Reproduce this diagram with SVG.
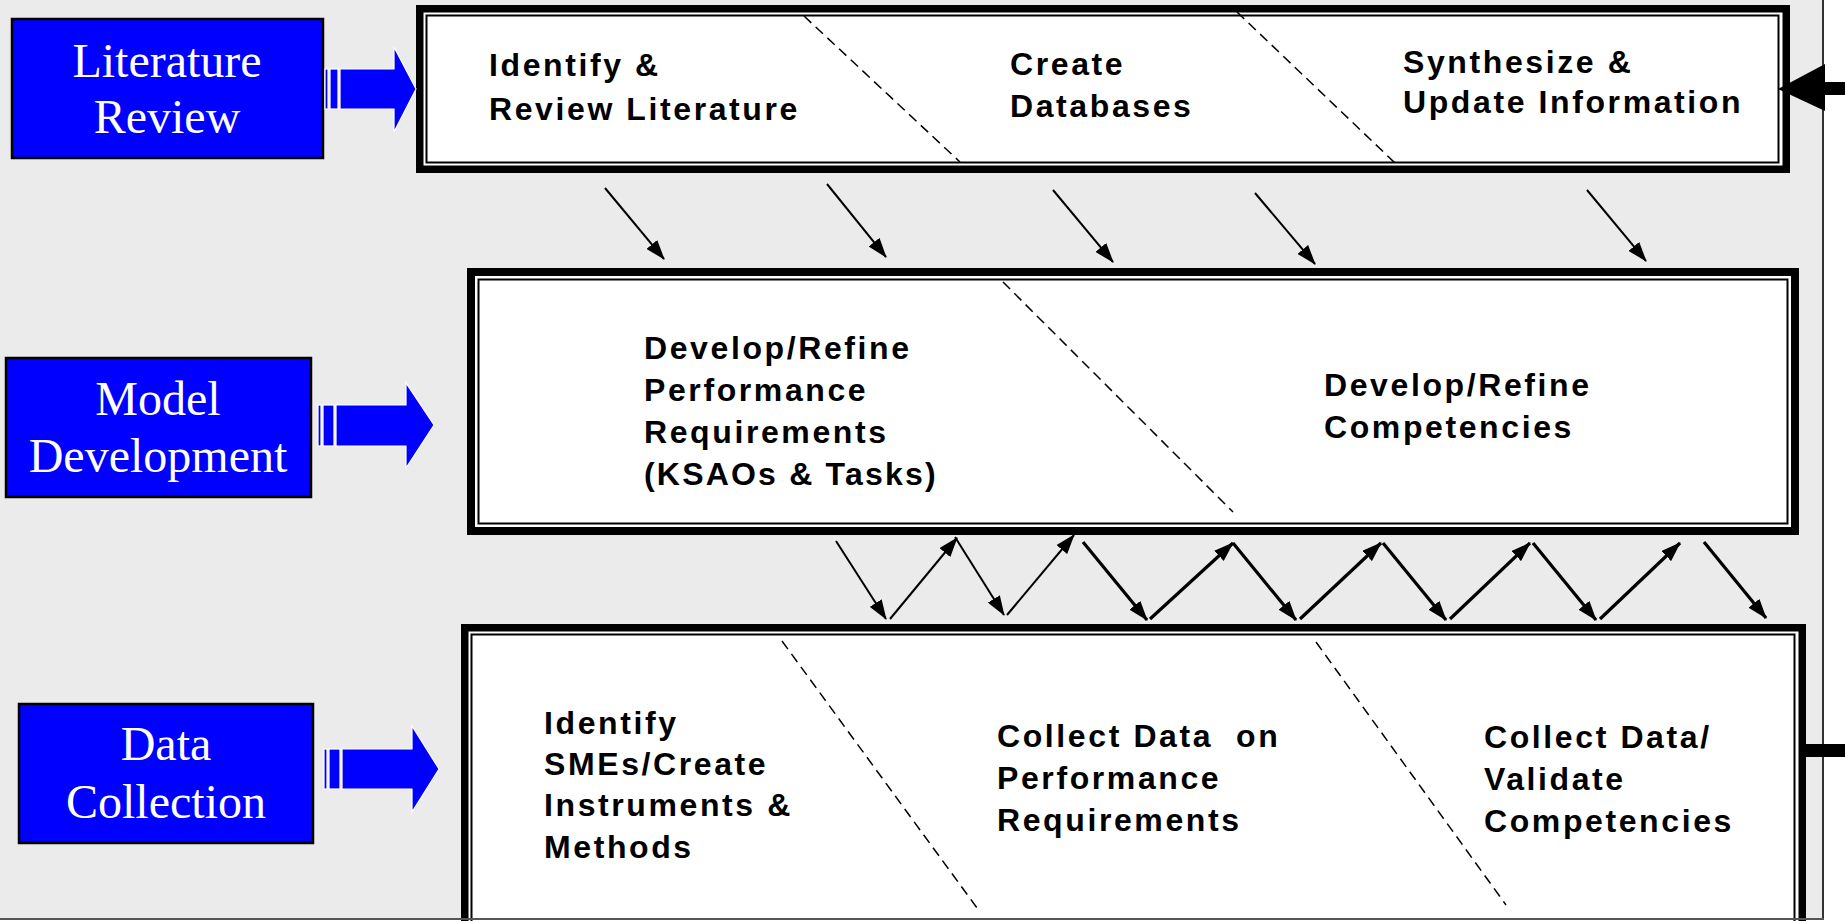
<svg xmlns="http://www.w3.org/2000/svg" width="1845" height="921" viewBox="0 0 1845 921">
  <style>
    .stage { fill: #0000ff; stroke: #000; stroke-width: 2.5; }
    .stage-label { font-family: "Liberation Serif", "Times New Roman", serif; font-size: 48px; fill: #fff; text-anchor: middle; }
    .block { fill: #0000ff; stroke: #fff; stroke-width: 1.2; }
    .frame-outer { fill: #000; }
    .frame-gap { fill: #fff; }
    .frame-inner { fill: #fff; stroke: #000; stroke-width: 2; }
    .divider { stroke: #000; stroke-width: 1.5; stroke-dasharray: 10 6; fill: none; }
    .task { font-family: "Liberation Sans", Arial, sans-serif; font-weight: bold; font-size: 32px; letter-spacing: 2.6px; fill: #000; }
    .conn { stroke: #000; fill: none; marker-end: url(#head); }
    .thin { stroke-width: 2; }
    .thick { stroke-width: 3.2; }
  </style>
  <defs>
    <marker id="head" markerUnits="userSpaceOnUse" markerWidth="20" markerHeight="14" viewBox="0 0 20 14" refX="19" refY="7" orient="auto">
      <path d="M0,0 L20,7 L0,14 z" fill="#000"/>
    </marker>
  </defs>

  <!-- page -->
  <rect x="0" y="0" width="1845" height="921" fill="#fff"/>
  <rect x="0" y="0" width="1824" height="919" fill="#ebebeb"/>

  <!-- process box: literature -->
  <g id="lit-process">
    <rect class="frame-outer" x="416" y="5" width="1374" height="168"/>
    <rect class="frame-gap" x="423.5" y="12.5" width="1359" height="153"/>
    <rect class="frame-inner" x="426.5" y="15.5" width="1352" height="147"/>
    <line class="divider" x1="804" y1="16" x2="960" y2="162"/>
    <line class="divider" x1="1237" y1="12" x2="1395" y2="163"/>
    <text class="task" x="489" y="76">Identify &amp;</text>
    <text class="task" x="489" y="120">Review Literature</text>
    <text class="task" x="1010" y="75">Create</text>
    <text class="task" x="1010" y="117">Databases</text>
    <text class="task" x="1403" y="73">Synthesize &amp;</text>
    <text class="task" x="1403" y="113">Update Information</text>
  </g>

  <!-- process box: model -->
  <g id="model-process">
    <rect class="frame-outer" x="467" y="268" width="1332" height="267"/>
    <rect class="frame-gap" x="475" y="276" width="1316" height="251"/>
    <rect class="frame-inner" x="478.5" y="279.5" width="1309" height="244"/>
    <line class="divider" x1="1003" y1="282" x2="1233" y2="512"/>
    <text class="task" x="644" y="359">Develop/Refine</text>
    <text class="task" x="644" y="401">Performance</text>
    <text class="task" x="644" y="443">Requirements</text>
    <text class="task" x="644" y="485" style="letter-spacing:2.2px">(KSAOs &amp; Tasks)</text>
    <text class="task" x="1324" y="396">Develop/Refine</text>
    <text class="task" x="1324" y="438">Competencies</text>
  </g>

  <!-- process box: data collection (runs past the lower edge) -->
  <g id="data-process">
    <rect class="frame-outer" x="461" y="624" width="1345" height="320"/>
    <rect class="frame-gap" x="468.5" y="631.5" width="1330" height="305"/>
    <rect class="frame-inner" x="471.5" y="634.5" width="1323" height="300"/>
    <line class="divider" x1="782" y1="641" x2="980" y2="912"/>
    <line class="divider" x1="1316" y1="642" x2="1506" y2="905"/>
    <text class="task" x="544" y="734">Identify</text>
    <text class="task" x="544" y="775">SMEs/Create</text>
    <text class="task" x="544" y="816">Instruments &amp;</text>
    <text class="task" x="544" y="858">Methods</text>
    <text class="task" x="997" y="747" xml:space="preserve">Collect Data  on</text>
    <text class="task" x="997" y="789">Performance</text>
    <text class="task" x="997" y="831">Requirements</text>
    <text class="task" x="1484" y="748">Collect Data/</text>
    <text class="task" x="1484" y="790">Validate</text>
    <text class="task" x="1484" y="832">Competencies</text>
  </g>

  <!-- stage: literature review -->
  <g id="lit-review">
    <rect class="stage" x="12" y="19" width="311" height="139"/>
    <text class="stage-label" x="167" y="77">Literature</text>
    <text class="stage-label" x="167" y="133">Review</text>
    <rect class="block" x="325" y="69" width="3" height="40"/>
    <rect class="block" x="330" y="69" width="8" height="40"/>
    <path class="block" d="M340,69 L394,69 L394,47 L416,89 L394,132 L394,109 L340,109 z"/>
  </g>

  <!-- stage: model development -->
  <g id="model-dev">
    <rect class="stage" x="6" y="358" width="305" height="139"/>
    <text class="stage-label" x="158" y="415">Model</text>
    <text class="stage-label" x="158" y="472">Development</text>
    <rect class="block" x="318" y="405" width="3" height="41"/>
    <rect class="block" x="323" y="405" width="11" height="41"/>
    <path class="block" d="M336,405 L406,405 L406,383 L434,425 L406,468 L406,446 L336,446 z"/>
  </g>

  <!-- stage: data collection -->
  <g id="data-coll">
    <rect class="stage" x="19" y="704" width="294" height="139"/>
    <text class="stage-label" x="166" y="760">Data</text>
    <text class="stage-label" x="166" y="818">Collection</text>
    <rect class="block" x="324" y="749" width="3" height="40"/>
    <rect class="block" x="329" y="749" width="11" height="40"/>
    <path class="block" d="M342,749 L412,749 L412,726 L439,769 L412,812 L412,789 L342,789 z"/>
  </g>

  <!-- connectors -->
  <g id="connectors">
    <!-- literature to model -->
    <line class="conn thin" x1="605" y1="188" x2="664" y2="259"/>
    <line class="conn thin" x1="827" y1="184" x2="886" y2="257"/>
    <line class="conn thin" x1="1053" y1="190" x2="1113" y2="262"/>
    <line class="conn thin" x1="1255" y1="193" x2="1315" y2="264"/>
    <line class="conn thin" x1="1587" y1="190" x2="1646" y2="261"/>
    <!-- model and data exchange -->
    <line class="conn thin" x1="836" y1="541" x2="886" y2="619"/>
    <line class="conn thin" x1="890" y1="619" x2="957" y2="538"/>
    <line class="conn thin" x1="955" y1="537" x2="1004" y2="615"/>
    <line class="conn thin" x1="1007" y1="615" x2="1074" y2="535"/>
    <line class="conn thick" x1="1083" y1="542" x2="1147" y2="620"/>
    <line class="conn thick" x1="1150" y1="619" x2="1233" y2="543"/>
    <line class="conn thick" x1="1233" y1="543" x2="1296" y2="620"/>
    <line class="conn thick" x1="1300" y1="619" x2="1381" y2="543"/>
    <line class="conn thick" x1="1383" y1="543" x2="1446" y2="620"/>
    <line class="conn thick" x1="1450" y1="619" x2="1530" y2="543"/>
    <line class="conn thick" x1="1533" y1="543" x2="1596" y2="620"/>
    <line class="conn thick" x1="1600" y1="619" x2="1680" y2="543"/>
    <line class="conn thick" x1="1704" y1="542" x2="1766" y2="618"/>
  </g>

  <!-- feedback loop along the right edge -->
  <g id="feedback">
    <line x1="1823" y1="0" x2="1823" y2="919" stroke="#333" stroke-width="2"/>
    <line x1="0" y1="919" x2="1824" y2="919" stroke="#555" stroke-width="2"/>
    <rect x="1806" y="744" width="39" height="13" fill="#000"/>
    <rect x="1822" y="82" width="23" height="13" fill="#000"/>
    <path d="M1825,64 L1778,89 L1825,111 z" fill="#000"/>
  </g>
</svg>
